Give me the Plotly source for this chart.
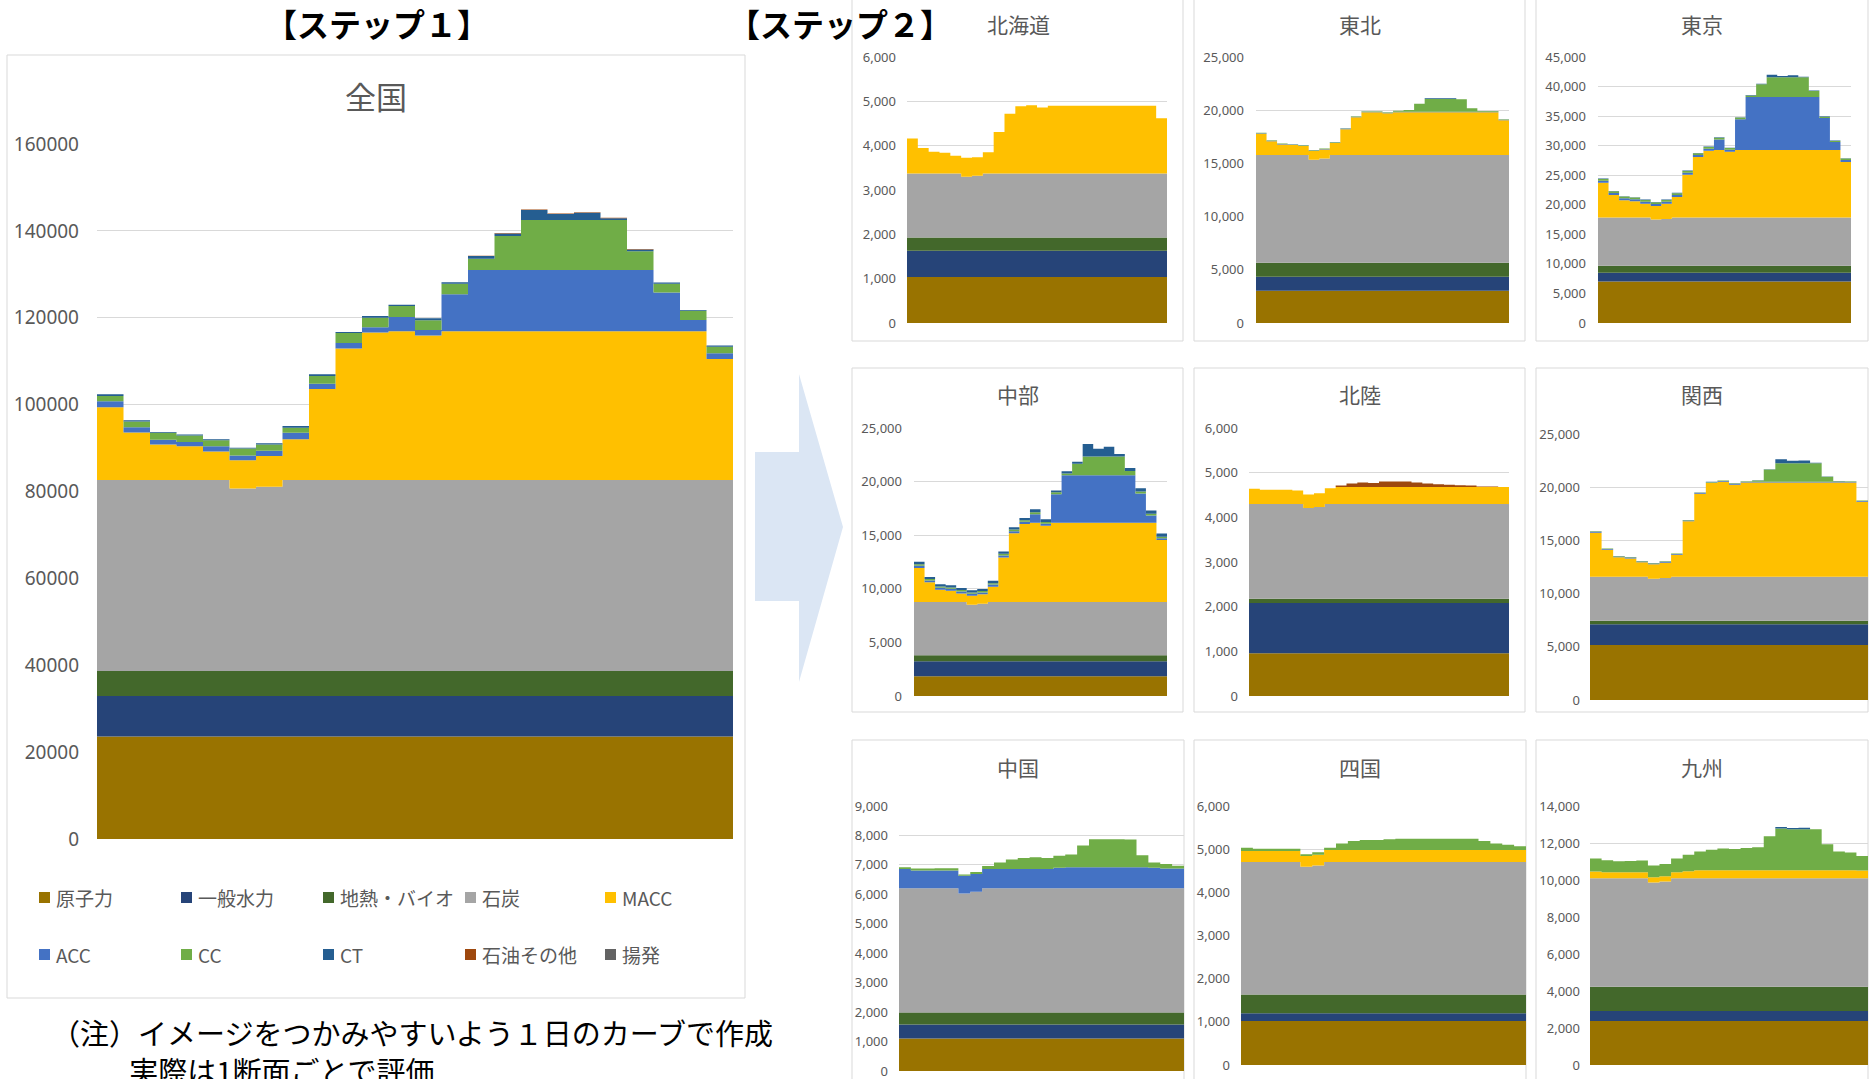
import plotly.graph_objects as go

W, H = 1875, 1079
FONT_JP = "Noto Sans CJK JP"
FONT_NUM = "Noto Sans"
GRAY_TEXT = "#595959"

# ---- series definitions -------------------------------------------------
SERIES = ["原子力", "一般水力", "地熱・バイオ", "石炭", "MACC",
          "ACC", "CC", "CT", "石油その他", "揚発"]
COLORS = ["#997300", "#264478", "#43682B", "#A5A5A5", "#FFC000",
          "#4472C4", "#70AD47", "#255E91", "#9E480E", "#636363"]

# ---- hourly supply (MW), 24 time slots per region ---------------------------
# flat series are given as a single value for the whole day

# 全国
zenkoku_nuclear = 23600
zenkoku_hydro = 9300
zenkoku_geo = 5800
zenkoku_coal = [43950, 43950, 43950, 43950, 43950, 42000, 42400, 43950, 43950, 43950, 43950, 43950,
                43950, 43950, 43950, 43950, 43950, 43950, 43950, 43950, 43950, 43950, 43950, 43950]
zenkoku_macc = [16750, 10950, 8150, 7750, 6550, 6500, 7100, 9350, 20950, 30250, 33950, 34250,
                33250, 34250, 34250, 34250, 34250, 34250, 34250, 34250, 34250, 34250, 34250, 27850]
zenkoku_acc = [1400, 1200, 1100, 1000, 1200, 1100, 1200, 1500, 1200, 1300, 1200, 3300,
               1300, 8500, 14100, 14100, 14100, 14100, 14100, 14100, 14100, 8900, 2600, 1300]
zenkoku_cc = [1200, 1300, 1600, 1500, 1400, 1600, 1400, 1200, 1800, 2300, 2200, 2500,
              2200, 2400, 2600, 7800, 11500, 11500, 11500, 11500, 4300, 2000, 2100, 1500]
zenkoku_ct = [400, 300, 200, 200, 200, 200, 300, 400, 400, 200, 400, 300,
              500, 400, 600, 600, 2300, 1400, 1700, 400, 400, 300, 200, 300]
zenkoku_oil = [0, 0, 0, 0, 0, 0, 0, 0, 0, 0, 0, 0,
               0, 0, 100, 100, 100, 100, 100, 100, 100, 0, 0, 0]
zenkoku_pumped = 0

# 北海道
hokkaido_nuclear = 1040
hokkaido_hydro = 590
hokkaido_geo = 300
hokkaido_coal = [1440, 1440, 1440, 1440, 1440, 1370, 1390, 1440, 1440, 1440, 1440, 1440,
                 1440, 1440, 1440, 1440, 1440, 1440, 1440, 1440, 1440, 1440, 1440, 1440]
hokkaido_macc = [790, 580, 490, 470, 400, 430, 420, 480, 940, 1350, 1520, 1540,
                 1490, 1530, 1530, 1530, 1530, 1530, 1530, 1530, 1530, 1530, 1530, 1250]
hokkaido_acc = 0
hokkaido_cc = 0
hokkaido_ct = 0
hokkaido_oil = 0
hokkaido_pumped = 0

# 東北
tohoku_nuclear = 3030
tohoku_hydro = 1310
tohoku_geo = 1320
tohoku_coal = [10120, 10120, 10120, 10120, 10120, 9680, 9810, 10120, 10120, 10120, 10120, 10120,
               10120, 10120, 10120, 10120, 10120, 10120, 10120, 10120, 10120, 10120, 10120, 10120]
tohoku_macc = [2000, 1310, 1000, 940, 850, 820, 840, 1130, 2440, 3560, 4030, 4030,
               3940, 4030, 4030, 4030, 4030, 4030, 4030, 4030, 4030, 4030, 4030, 3280]
tohoku_acc = 50
tohoku_cc = [40, 40, 40, 40, 40, 40, 40, 40, 40, 40, 40, 40,
             40, 100, 150, 750, 1200, 1200, 1200, 1180, 330, 60, 60, 40]
tohoku_ct = [0, 0, 0, 0, 0, 0, 0, 0, 0, 0, 0, 0,
             0, 0, 0, 0, 70, 70, 70, 0, 0, 0, 0, 0]
tohoku_oil = 0
tohoku_pumped = 0

# 東京
tokyo_nuclear = 7000
tokyo_hydro = 1500
tokyo_geo = 1180
tokyo_coal = [8150, 8150, 8150, 8150, 8150, 7810, 7920, 8150, 8150, 8150, 8150, 8150,
              8150, 8150, 8150, 8150, 8150, 8150, 8150, 8150, 8150, 8150, 8150, 8150]
tokyo_macc = [5900, 3820, 2920, 2760, 2360, 2310, 2590, 3490, 7250, 10240, 11310, 11420,
              11140, 11420, 11420, 11420, 11420, 11420, 11420, 11420, 11420, 11420, 11420, 9390]
tokyo_acc = [340, 330, 350, 330, 330, 330, 330, 340, 350, 350, 350, 1800,
             330, 5230, 9000, 9000, 9000, 9000, 9000, 9000, 9000, 5450, 1350, 340]
tokyo_cc = [300, 300, 300, 300, 300, 300, 300, 300, 300, 300, 300, 300,
            300, 280, 250, 2130, 3310, 3310, 3310, 3310, 1010, 200, 200, 250]
tokyo_ct = [60, 60, 60, 60, 60, 60, 60, 60, 60, 60, 60, 80,
            60, 60, 80, 80, 450, 230, 340, 100, 60, 60, 60, 60]
tokyo_oil = 0
tokyo_pumped = 0

# 中部
chubu_nuclear = 1840
chubu_hydro = 1400
chubu_geo = 560
chubu_coal = [4960, 4960, 4960, 4960, 4960, 4710, 4800, 4960, 4960, 4960, 4960, 4960,
              4960, 4960, 4960, 4960, 4960, 4960, 4960, 4960, 4960, 4960, 4960, 4960]
chubu_macc = [3180, 1840, 1150, 1060, 810, 840, 880, 1430, 4150, 6420, 7290, 7390,
              7110, 7390, 7390, 7390, 7390, 7390, 7390, 7390, 7390, 7390, 7390, 5800]
chubu_acc = [200, 180, 180, 180, 180, 180, 180, 200, 200, 200, 200, 800,
             200, 2680, 4450, 4450, 4450, 4450, 4450, 4450, 4450, 2750, 680, 150]
chubu_cc = [150, 130, 130, 130, 130, 130, 130, 130, 150, 150, 150, 180,
            150, 180, 160, 1060, 1750, 1750, 1750, 1750, 400, 180, 180, 150]
chubu_ct = [240, 200, 200, 200, 200, 200, 200, 220, 210, 210, 200, 300,
            270, 150, 200, 200, 1150, 720, 900, 220, 260, 310, 300, 300]
chubu_oil = 0
chubu_pumped = 0

# 北陸
hokuriku_nuclear = 955
hokuriku_hydro = 1125
hokuriku_geo = 100
hokuriku_coal = [2120, 2120, 2120, 2120, 2120, 2030, 2050, 2120, 2120, 2120, 2120, 2120,
                 2120, 2120, 2120, 2120, 2120, 2120, 2120, 2120, 2120, 2120, 2120, 2120]
hokuriku_macc = [340, 320, 320, 320, 300, 300, 310, 350, 380, 380, 380, 380,
                 380, 380, 380, 380, 380, 380, 380, 380, 380, 380, 380, 380]
hokuriku_acc = 0
hokuriku_cc = 0
hokuriku_ct = 0
hokuriku_oil = [0, 0, 0, 0, 0, 0, 0, 0, 30, 80, 100, 90,
                120, 120, 120, 100, 80, 60, 50, 40, 30, 10, 10, 0]
hokuriku_pumped = 0

# 関西
kansai_nuclear = 5170
kansai_hydro = 1940
kansai_geo = 350
kansai_coal = [4130, 4130, 4130, 4130, 4130, 3940, 4010, 4130, 4130, 4130, 4130, 4130,
               4130, 4130, 4130, 4130, 4130, 4130, 4130, 4130, 4130, 4130, 4130, 4130]
kansai_macc = [4140, 2540, 1820, 1720, 1350, 1350, 1440, 2070, 5200, 7800, 8800, 8930,
               8650, 8860, 8860, 8860, 8860, 8860, 8860, 8860, 8860, 8860, 8860, 7050]
kansai_acc = 60
kansai_cc = [40, 40, 40, 40, 40, 40, 40, 40, 40, 40, 40, 40,
             40, 40, 120, 1150, 1730, 1730, 1730, 1730, 480, 60, 40, 40]
kansai_ct = [20, 20, 20, 20, 20, 20, 20, 20, 20, 20, 20, 20,
             20, 20, 20, 20, 380, 250, 280, 50, 20, 20, 20, 20]
kansai_oil = 0
kansai_pumped = 0

# 中国
chugoku_nuclear = 1105
chugoku_hydro = 475
chugoku_geo = 405
chugoku_coal = [4225, 4225, 4225, 4225, 4225, 4045, 4105, 4225, 4225, 4225, 4225, 4225,
                4225, 4225, 4225, 4225, 4225, 4225, 4225, 4225, 4225, 4225, 4225, 4225]
chugoku_macc = 0
chugoku_acc = [650, 600, 600, 600, 600, 600, 600, 650, 650, 650, 650, 650,
               650, 690, 710, 710, 710, 710, 710, 710, 710, 690, 670, 670]
chugoku_cc = [60, 70, 70, 80, 80, 40, 70, 100, 220, 320, 370, 400,
              370, 410, 430, 740, 950, 950, 950, 940, 410, 180, 150, 90]
chugoku_ct = 0
chugoku_oil = 0
chugoku_pumped = 0

# 四国
shikoku_nuclear = 1020
shikoku_hydro = 180
shikoku_geo = 435
shikoku_coal = [3065, 3065, 3065, 3065, 3065, 2955, 2985, 3065, 3065, 3065, 3065, 3065,
                3065, 3065, 3065, 3065, 3065, 3065, 3065, 3065, 3065, 3065, 3065, 3065]
shikoku_macc = [260, 260, 260, 260, 260, 250, 250, 280, 280, 280, 280, 280,
                280, 280, 280, 280, 280, 280, 280, 280, 280, 280, 280, 280]
shikoku_acc = 0
shikoku_cc = [70, 50, 50, 50, 50, 40, 60, 50, 150, 210, 230, 230,
              250, 260, 260, 260, 260, 260, 260, 260, 210, 150, 120, 90]
shikoku_ct = 0
shikoku_oil = 0
shikoku_pumped = 0

# 九州
kyushu_nuclear = 2375
kyushu_hydro = 540
kyushu_geo = 1315
kyushu_coal = [5870, 5870, 5870, 5870, 5870, 5630, 5690, 5870, 5870, 5870, 5870, 5870,
               5870, 5870, 5870, 5870, 5870, 5870, 5870, 5870, 5870, 5870, 5870, 5870]
kyushu_macc = [360, 320, 320, 320, 320, 290, 280, 320, 370, 430, 430, 430,
               430, 430, 430, 430, 430, 430, 430, 430, 430, 430, 430, 410]
kyushu_acc = 0
kyushu_cc = [700, 650, 590, 610, 630, 630, 670, 740, 890, 1010, 1110, 1170,
             1150, 1200, 1240, 1830, 2260, 2210, 2210, 2210, 1400, 1010, 950, 790]
kyushu_ct = [0, 0, 0, 0, 0, 0, 0, 0, 0, 0, 0, 0,
             0, 0, 0, 0, 80, 70, 90, 0, 0, 0, 0, 0]
kyushu_oil = 0
kyushu_pumped = 0

# axis scales and tick labels
REGION_NAMES = ["全国", "北海道", "東北", "東京", "中部", "北陸", "関西", "中国", "四国", "九州"]
Y_MAX = [160000, 6000, 25000, 45000, 25000, 6000, 25000, 9000, 6000, 14000]
Y_STEP = [20000, 1000, 5000, 5000, 5000, 1000, 5000, 1000, 1000, 2000]

REGION_SERIES = [
    [zenkoku_nuclear, zenkoku_hydro, zenkoku_geo, zenkoku_coal, zenkoku_macc,
     zenkoku_acc, zenkoku_cc, zenkoku_ct, zenkoku_oil, zenkoku_pumped],
    [hokkaido_nuclear, hokkaido_hydro, hokkaido_geo, hokkaido_coal, hokkaido_macc,
     hokkaido_acc, hokkaido_cc, hokkaido_ct, hokkaido_oil, hokkaido_pumped],
    [tohoku_nuclear, tohoku_hydro, tohoku_geo, tohoku_coal, tohoku_macc,
     tohoku_acc, tohoku_cc, tohoku_ct, tohoku_oil, tohoku_pumped],
    [tokyo_nuclear, tokyo_hydro, tokyo_geo, tokyo_coal, tokyo_macc,
     tokyo_acc, tokyo_cc, tokyo_ct, tokyo_oil, tokyo_pumped],
    [chubu_nuclear, chubu_hydro, chubu_geo, chubu_coal, chubu_macc,
     chubu_acc, chubu_cc, chubu_ct, chubu_oil, chubu_pumped],
    [hokuriku_nuclear, hokuriku_hydro, hokuriku_geo, hokuriku_coal, hokuriku_macc,
     hokuriku_acc, hokuriku_cc, hokuriku_ct, hokuriku_oil, hokuriku_pumped],
    [kansai_nuclear, kansai_hydro, kansai_geo, kansai_coal, kansai_macc,
     kansai_acc, kansai_cc, kansai_ct, kansai_oil, kansai_pumped],
    [chugoku_nuclear, chugoku_hydro, chugoku_geo, chugoku_coal, chugoku_macc,
     chugoku_acc, chugoku_cc, chugoku_ct, chugoku_oil, chugoku_pumped],
    [shikoku_nuclear, shikoku_hydro, shikoku_geo, shikoku_coal, shikoku_macc,
     shikoku_acc, shikoku_cc, shikoku_ct, shikoku_oil, shikoku_pumped],
    [kyushu_nuclear, kyushu_hydro, kyushu_geo, kyushu_coal, kyushu_macc,
     kyushu_acc, kyushu_cc, kyushu_ct, kyushu_oil, kyushu_pumped],
]

# ---- page geometry (pixels) ------------------------------------------------
# plot area: left, right, top (y of axis max), bottom (y of 0)
PLOT_BOX = [
    (97, 733, 144, 839),
    (907, 1167, 57, 323),
    (1256, 1509, 57, 323),
    (1598, 1851, 57, 323),
    (914, 1167, 428, 696),
    (1249, 1509, 428, 696),
    (1590, 1868, 434, 700),
    (899, 1184, 806, 1071),
    (1241, 1526, 806, 1065),
    (1590, 1868, 806, 1065),
]
LABEL_RIGHT = [77, 894, 1242, 1584, 900, 1236, 1578, 886, 1228, 1578]
TITLE_POS = [(376, 95), (1018, 24), (1360, 24), (1702, 24), (1018, 394), (1360, 394),
             (1702, 394), (1018, 767), (1360, 767), (1702, 767)]
FRAME = [(7, 55, 745, 998), (852, -2, 1183, 341), (1194, -2, 1525, 341), (1536, -2, 1868, 341),
         (852, 368, 1183, 712), (1194, 368, 1525, 712), (1536, 368, 1868, 712),
         (852, 740, 1184, 1090), (1194, 740, 1526, 1090), (1536, 740, 1868, 1090)]


def px(x):
    return x / W


def py(y):
    return 1 - y / H


def full_day(v):
    return list(v) if isinstance(v, list) else [v] * 24


fig = go.Figure()
layout = dict(
    width=W, height=H, margin=dict(l=0, r=0, t=0, b=0, autoexpand=False),
    paper_bgcolor="white", plot_bgcolor="rgba(0,0,0,0)",
    showlegend=False, hovermode=False,
)
shapes, annotations = [], []
slots = list(range(25))

for k, (name, series) in enumerate(zip(REGION_NAMES, REGION_SERIES)):
    n = k + 1
    xa = "x" if n == 1 else f"x{n}"
    ya = "y" if n == 1 else f"y{n}"
    left, right, top, bottom = PLOT_BOX[k]
    main = k == 0

    for s_name, color, values in zip(SERIES, COLORS, series):
        vals = full_day(values)
        fig.add_trace(go.Scatter(
            x=slots, y=vals + [vals[-1]], name=s_name, mode="lines",
            line=dict(width=0, shape="hv", color=color),
            fillcolor=color, stackgroup=f"g{n}",
            xaxis=xa, yaxis=ya, hoverinfo="skip",
        ))

    layout["xaxis" if n == 1 else f"xaxis{n}"] = dict(
        domain=[px(left), px(right)], range=[0, 24], visible=False,
        fixedrange=True, anchor=ya,
    )
    layout["yaxis" if n == 1 else f"yaxis{n}"] = dict(
        domain=[py(bottom), py(top)], range=[0, Y_MAX[k]], dtick=Y_STEP[k],
        tick0=0, showgrid=True, gridcolor="#d9d9d9", gridwidth=1.3 if main else 1,
        zeroline=False, showline=False, ticks="", automargin=False,
        ticklabeloverflow="allow",
        tickformat="d" if main else ",d", separatethousands=not main,
        tickfont=dict(family=FONT_NUM, size=19 if main else 13, color=GRAY_TEXT),
        ticklabelstandoff=max(0, left - LABEL_RIGHT[k] - 3),
        fixedrange=True, anchor=xa,
    )

    tx, ty = TITLE_POS[k]
    annotations.append(dict(
        x=px(tx), y=py(ty), xref="paper", yref="paper", text=name, showarrow=False,
        xanchor="center", yanchor="middle",
        font=dict(family=FONT_JP, size=31 if main else 21, color=GRAY_TEXT),
    ))

    fx0, fy0, fx1, fy1 = FRAME[k]
    shapes.append(dict(
        type="rect", xref="paper", yref="paper", layer="below",
        x0=px(fx0), x1=px(fx1), y0=py(fy1), y1=py(fy0),
        line=dict(color="#d9d9d9", width=1), fillcolor="rgba(0,0,0,0)",
    ))

# legend of the 全国 chart
LEG_X = [39, 181, 323, 465, 605]
LEG_Y = [897, 954]
for i, (s_name, color) in enumerate(zip(SERIES, COLORS)):
    lx, ly = LEG_X[i % 5], LEG_Y[i // 5]
    shapes.append(dict(
        type="rect", xref="paper", yref="paper",
        x0=px(lx), x1=px(lx + 11), y0=py(ly + 6), y1=py(ly - 5),
        line=dict(width=0), fillcolor=color,
    ))
    annotations.append(dict(
        x=px(lx + 15), y=py(ly), xref="paper", yref="paper", text=s_name,
        showarrow=False, xanchor="left", yanchor="middle",
        font=dict(family=FONT_JP, size=19, color=GRAY_TEXT),
    ))

# arrow from step 1 to step 2
arrow_pts = [(755, 452), (799, 452), (799, 374), (843, 527), (799, 682), (799, 601), (755, 601)]
path = "M " + " L ".join(f"{px(x):.5f},{py(y):.5f}" for x, y in arrow_pts) + " Z"
shapes.append(dict(type="path", xref="paper", yref="paper", path=path,
                   fillcolor="rgb(219,230,244)", line=dict(width=0)))

# headings and note
annotations += [
    dict(x=px(377), y=py(23), xref="paper", yref="paper", text="<b>【ステップ１】</b>",
         showarrow=False, xanchor="center", yanchor="middle",
         font=dict(family=FONT_JP, size=32, color="black")),
    dict(x=px(840), y=py(23), xref="paper", yref="paper", text="<b>【ステップ２】</b>",
         showarrow=False, xanchor="center", yanchor="middle",
         font=dict(family=FONT_JP, size=32, color="black")),
    dict(x=px(49), y=py(1051), xref="paper", yref="paper", align="left",
         text="（注）イメージをつかみやすいよう１日のカーブで作成<br>"
              "\u3000\u3000\u2002\u2009実際は1断面ごとで評価",
         showarrow=False, xanchor="left", yanchor="middle",
         font=dict(family=FONT_JP, size=29, color="black")),
]

layout["shapes"] = shapes
layout["annotations"] = annotations
fig.update_layout(**layout)
fig.write_html("out.html")
